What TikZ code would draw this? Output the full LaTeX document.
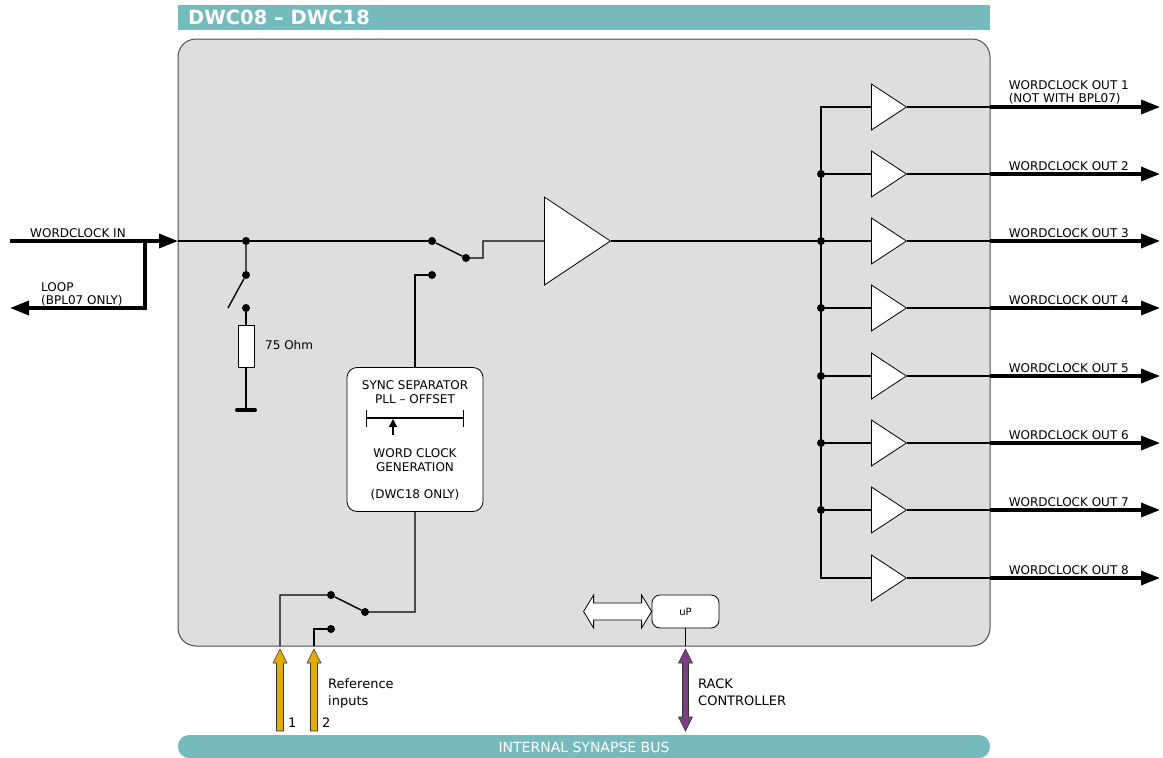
\documentclass[tikz,border=0pt]{standalone}
\usepackage{fontspec}
\setmainfont{DejaVu Sans}
\usetikzlibrary{arrows.meta,shapes.geometric}
\definecolor{busteal}{RGB}{117,187,190}
\definecolor{panelgray}{RGB}{222,222,222}
\definecolor{refyellow}{RGB}{229,172,0}
\definecolor{rackpurple}{RGB}{125,62,130}

\begin{document}
\begin{tikzpicture}[x=1pt,y=-1pt,
    wire/.style={line width=1.4pt},
    sigout/.style={line width=3.4pt,-{Triangle[length=19pt,width=14pt]}},
    dot/.style={circle,fill,inner sep=0pt,minimum size=8pt},
    buf/.style={isosceles triangle,isosceles triangle stretches,draw,fill=white,
        inner sep=0pt,minimum height=35pt,minimum width=46pt,line width=0.8pt},
    amp/.style={isosceles triangle,isosceles triangle stretches,draw,fill=white,
        inner sep=0pt,minimum height=66pt,minimum width=88pt,line width=0.8pt},
    syncbox/.style={draw,fill=white,rounded corners=10pt,line width=0.8pt,
        minimum width=136pt,minimum height=144pt},
    lbl/.style={font=\fontsize{12}{13}\selectfont,inner sep=0pt},
    biglbl/.style={font=\fontsize{13}{17}\selectfont,inner sep=0pt}]
    \useasboundingbox (0,0) rectangle (1163,758);

    % frame and bus
    \fill[busteal] (178,5) rectangle (990,30);
    \node[anchor=base west,inner sep=0pt,text=white,
        font=\fontsize{19.5}{21}\selectfont\bfseries] (title) at (188,24) {DWC08 – DWC18};
    \draw[fill=panelgray,draw=black!70,line width=1pt,rounded corners=18pt] (178,39) rectangle (990,646);
    \fill[busteal,rounded corners=11pt] (178,735) rectangle (990,758);
    \node[anchor=base,inner sep=0pt,text=white,font=\fontsize{14}{15}\selectfont] (busname)
        at (584,752) {INTERNAL SYNAPSE BUS};

    % input and loop
    \coordinate (in) at (10,241);
    \coordinate (edge) at (178,241);
    \coordinate (loopA) at (145,241);
    \coordinate (loopB) at (145,308);
    \coordinate (loopout) at (10,308);
    \draw[sigout] (in) -- (edge);
    \draw[sigout] (loopA) -- (loopB) -- (loopout);
    \node[lbl,anchor=base west] (inlbl) at (30,237) {WORDCLOCK IN};
    \node[lbl,anchor=north west,align=left] (looplbl) at (41,282) {LOOP\\(BPL07 ONLY)};

    % termination
    \node[dot] (j0) at (246,241) {};
    \node[dot] (t1) at (246,275) {};
    \node[dot] (t2) at (246,308) {};
    \coordinate (lever1) at (228,308);
    \node[draw,fill=white,line width=0.8pt,minimum width=16pt,minimum height=42pt,
        inner sep=0pt] (res) at (246,346) {};
    \coordinate (gnd) at (246,410);
    \draw[wire] (j0) -- (t1) -- (lever1);
    \draw[wire] (t2) -- (res.north) (res.south) -- (gnd);
    \draw[line width=4pt,line cap=round] ([xshift=-9pt]gnd) -- ([xshift=9pt]gnd);
    \node[lbl,anchor=base west] (reslbl) at (265,349) {75 Ohm};

    % input switch and amplifier
    \node[dot] (sw1a) at (432,241) {};
    \node[dot] (sw1b) at (432,275) {};
    \node[dot] (sw1c) at (466,258) {};
    \node[amp,anchor=west] (amp) at (544,241) {};
    \draw[wire] (edge) -- (j0) -- (sw1a);
    \draw[wire] (sw1a) -- (sw1c) -- ++(17,0) |- (amp.west);

    % sync separator
    \node[syncbox] (sync) at (415,439.5) {};
    \node[lbl,align=center,anchor=north,font=\fontsize{12}{14}\selectfont] (synctxt)
        at (415,380) {SYNC SEPARATOR\\PLL – OFFSET};
    \coordinate (barL) at (366,418);
    \coordinate (barR) at (464,418);
    \draw[wire,{Bar[width=17pt]}-{Bar[width=17pt]}] (barL) -- (barR);
    \draw[wire,-{Triangle[length=8pt,width=8pt]}] (393,435) -- (393,419);
    \node[lbl,align=center,anchor=north,font=\fontsize{12}{14}\selectfont] (gentxt)
        at (415,448) {WORD CLOCK\\GENERATION\\[13pt](DWC18 ONLY)};
    \draw[wire] (sw1b) -| (sync.north);

    % reference switch
    \node[dot] (sw2a) at (331,595) {};
    \node[dot] (sw2b) at (331,629) {};
    \node[dot] (sw2c) at (365,612) {};
    \coordinate (ref1) at (280,646);
    \coordinate (ref2) at (314,646);
    \draw[wire] (sync.south) |- (sw2c) -- (sw2a) -| (ref1);
    \draw[wire] (sw2b) -| (ref2);
    \foreach \x/\n in {280/1,314/2}{
        \draw[fill=refyellow,draw=black!80,line width=0.6pt] (\x-3.5,731) -- (\x-3.5,663)
            -- (\x-7,663) -- (\x,649) -- (\x+7,663) -- (\x+3.5,663) -- (\x+3.5,731) -- cycle;
        \node[biglbl,anchor=base west] (refnum\n) at (\x+8,727) {\n};
    }
    \node[biglbl,align=left,anchor=north west] (reflbl) at (328,678) {Reference\\inputs};

    % controller
    \node[draw,fill=white,rounded corners=8pt,minimum width=67pt,minimum height=33pt,
        line width=0.8pt,font=\fontsize{10}{12}\selectfont] (up) at (685.5,611.5) {uP};
    \coordinate (rack) at (685.5,646);
    \draw[wire] (up.south) -- (rack);
    \draw[fill=white,line width=0.8pt] (up.west) -- ++(-10,-16.5) -- ++(0,8) -- ++(-48,0)
        -- ++(0,-8) -- ++(-10,16.5) -- ++(10,16.5) -- ++(0,-8) -- ++(48,0) -- ++(0,8) -- cycle;
    \draw[fill=rackpurple,draw=black!80,line width=0.6pt] (685.5,649) -- ++(7,14) -- ++(-4,0)
        -- ++(0,54) -- ++(4,0) -- ++(-7,14) -- ++(-7,-14) -- ++(4,0) -- ++(0,-54) -- ++(-4,0) -- cycle;
    \node[biglbl,align=left,anchor=north west] (racklbl) at (698,679) {RACK\\CONTROLLER};

    % outputs
    \foreach \i/\y in {1/107,2/174,3/241,4/308,5/376,6/443,7/510,8/578}{
        \coordinate (tap\i) at (821,\y);
        \node[buf,anchor=west] (buf\i) at (871,\y) {};
        \coordinate (port\i) at (990,\y);
        \coordinate (out\i) at (1160,\y);
        \draw[wire] (tap\i) -- (buf\i.west);
        \draw[wire] (buf\i.east) -- (port\i);
        \draw[sigout] (port\i) -- (out\i);
    }
    \draw[wire] (buf1.west) -- (tap1) -- (tap8) -- (buf8.west);
    \foreach \i in {2,...,7}
        \node[dot] (dot\i) at (tap\i) {};
    \draw[wire] (amp.east) -- (dot3);
    \node[lbl,anchor=north east,align=left] (outlbl1) at (1129,80) {WORDCLOCK OUT 1\\(NOT WITH BPL07)};
    \foreach \i/\y in {2/174,3/241,4/308,5/376,6/443,7/510,8/578}
        \node[lbl,anchor=base east] (outlbl\i) at (1129,\y-4) {WORDCLOCK OUT \i};
\end{tikzpicture}
\end{document}
